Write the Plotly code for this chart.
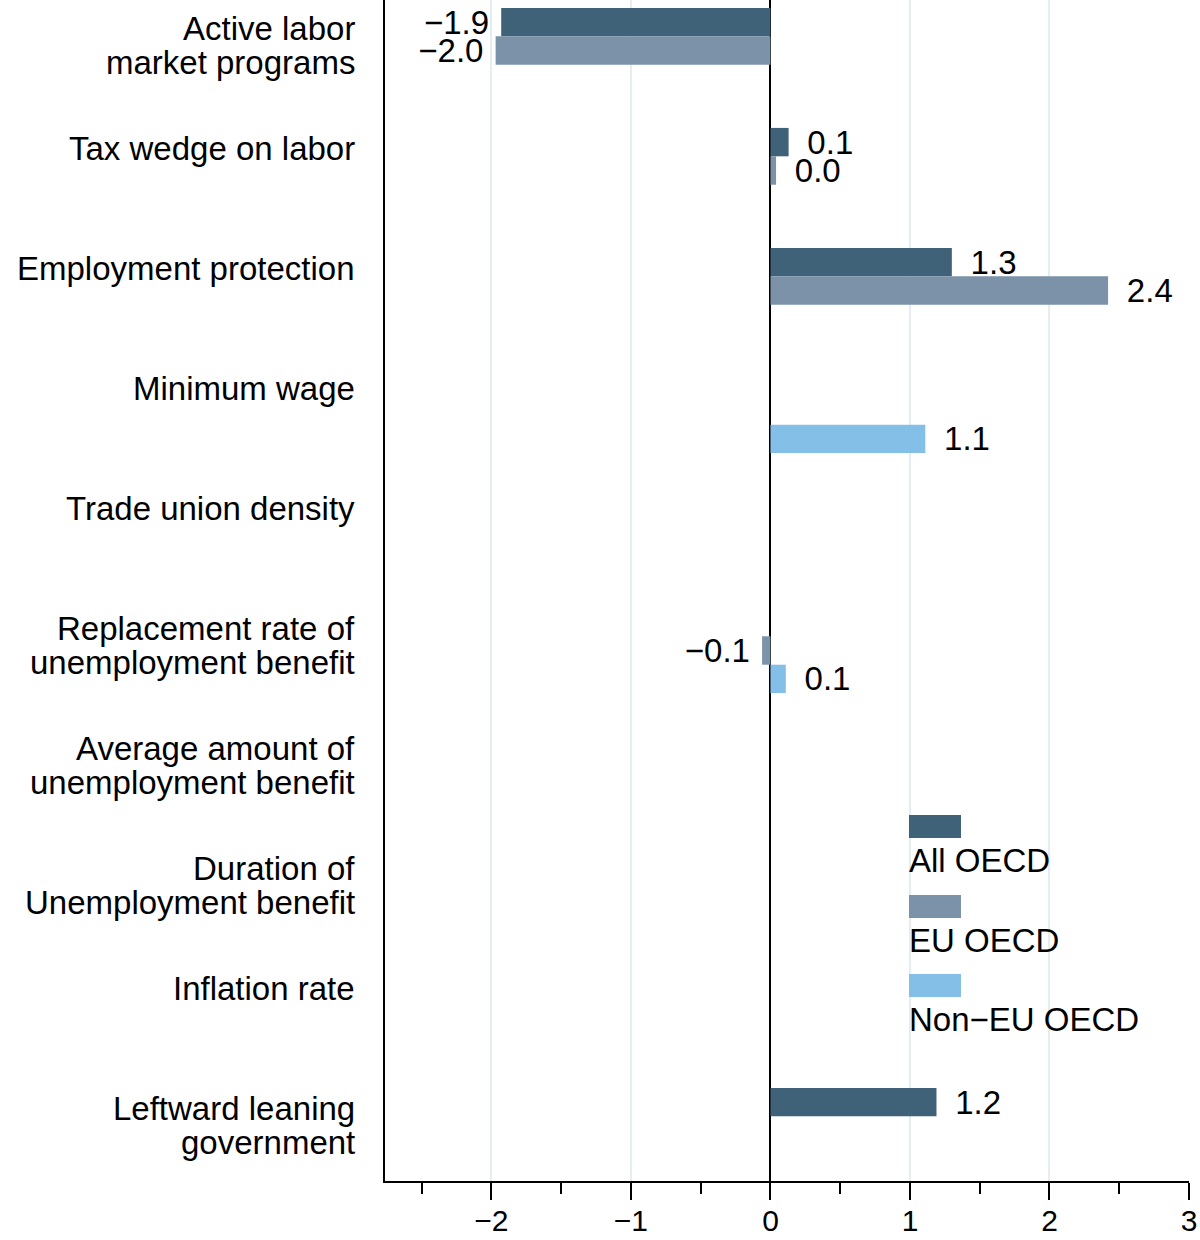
import plotly.graph_objects as go

# ---- data ----
categories = [
    ["Active labor", "market programs"],
    ["Tax wedge on labor"],
    ["Employment protection"],
    ["Minimum wage"],
    ["Trade union density"],
    ["Replacement rate of", "unemployment benefit"],
    ["Average amount of", "unemployment benefit"],
    ["Duration of", "Unemployment benefit"],
    ["Inflation rate"],
    ["Leftward leaning", "government"],
]
all_oecd = [-1.93, 0.13, 1.30, None, None, None, None, None, None, 1.19]
eu_oecd = [-1.97, 0.04, 2.42, None, None, -0.06, None, None, None, None]
non_eu_oecd = [None, None, None, 1.11, None, 0.11, None, None, None, None]
series_names = ["All OECD", "EU OECD", "Non\u2212EU OECD"]
series_colors = ["#3f6279", "#7b92a9", "#84bfe7"]
x_ticks = [-2, -1, 0, 1, 2, 3]

FONT = "Liberation Sans, Arial, Helvetica, sans-serif"
ypos = list(range(len(categories)))


def fmt(v):
    if v is None:
        return ""
    s = f"{v:.1f}".replace("-", "\u2212")
    return (s + "\u00a0") if v < 0 else ("\u00a0\u2009" + s)


fig = go.Figure()
for name, vals, col in zip(series_names, [all_oecd, eu_oecd, non_eu_oecd], series_colors):
    fig.add_trace(go.Bar(
        y=ypos, x=vals, orientation="h", name=name,
        marker=dict(color=col, line=dict(width=0)),
        text=[fmt(v) for v in vals], textposition="outside",
        constraintext="none", cliponaxis=False,
        textfont=dict(family=FONT, size=33, color="black"),
        showlegend=False,
    ))

fig.update_layout(
    width=1200, height=1240,
    margin=dict(l=385, r=11, t=0, b=59, autoexpand=False),
    paper_bgcolor="white", plot_bgcolor="white",
    barmode="group", bargap=0.29, bargroupgap=0,
    font=dict(family=FONT, color="black"),
)
fig.update_xaxes(
    range=[-2.763, 3.0], tickvals=x_ticks,
    ticktext=[str(t).replace("-", "\u2212") for t in x_ticks],
    tickfont=dict(size=30, family=FONT, color="black"),
    ticks="outside", ticklen=17, tickwidth=2, tickcolor="black",
    ticklabelstandoff=-5, automargin=False,
    minor=dict(dtick=0.5, tick0=0.5, ticks="outside", ticklen=11, tickwidth=2,
               tickcolor="black", showgrid=False),
    showgrid=True, gridcolor="#e4edf1", gridwidth=2,
    zeroline=True, zerolinecolor="black", zerolinewidth=1.5,
    showline=True, linecolor="black", linewidth=2,
)
fig.update_yaxes(
    range=[9.421, -0.421], showticklabels=False, ticks="",
    showgrid=False, zeroline=False, automargin=False,
    showline=True, linecolor="black", linewidth=2,
)

# category labels (one annotation per line)
for i, lines in enumerate(categories):
    for j, line in enumerate(lines):
        fig.add_annotation(
            xref="paper", x=0, xanchor="right", xshift=-28,
            yref="y", y=i, yanchor="middle", yshift=22 - 34 * j,
            text=line, showarrow=False,
            font=dict(family=FONT, size=33, color="black"),
        )

# legend: swatch above label
leg_swatch_top = [0.3099, 0.2422, 0.1753]
for k, (name, col) in enumerate(zip(series_names, series_colors)):
    top = leg_swatch_top[k]
    fig.add_shape(type="rect", xref="paper", yref="paper",
                  x0=0.6517, x1=0.7164, y0=top - 0.0195, y1=top,
                  fillcolor=col, line=dict(width=0))
    fig.add_annotation(xref="paper", yref="paper", x=0.6517, xanchor="left",
                       xshift=-2, y=top - 0.0195 - 0.0194, yanchor="middle",
                       text=name, showarrow=False,
                       font=dict(family=FONT, size=33, color="black"))

fig.write_html(
    "out.html",
    config={"displayModeBar": False},
    post_script="document.body.style.margin='0';document.body.style.overflow='hidden';",
)
